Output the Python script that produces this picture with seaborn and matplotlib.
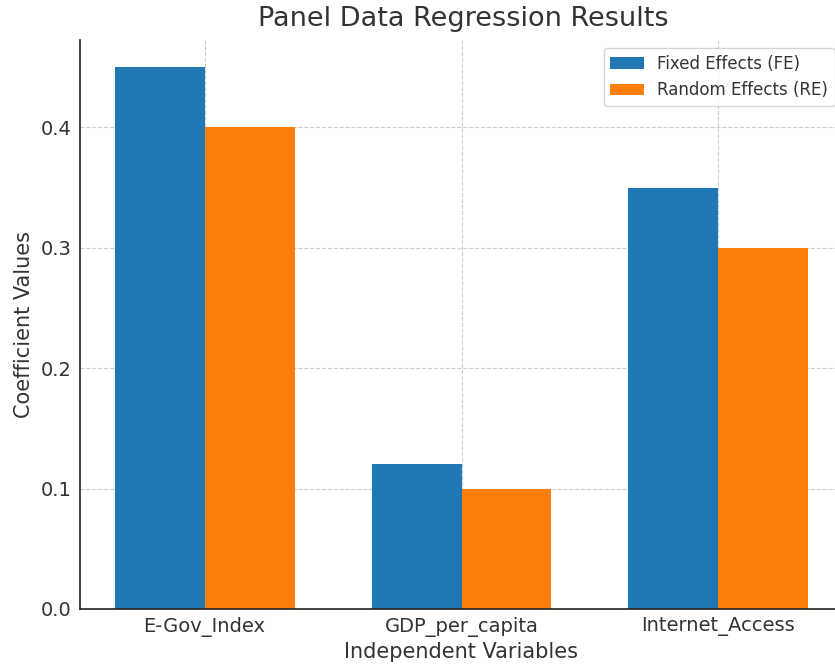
import matplotlib
matplotlib.use("Agg")
import matplotlib.pyplot as plt
import seaborn as sns
import pandas as pd

variables = ["E-Gov_Index", "GDP_per_capita", "Internet_Access"]
fe_values = [0.45, 0.12, 0.35]
re_values = [0.40, 0.10, 0.30]
series_names = ["Fixed Effects (FE)", "Random Effects (RE)"]
colors = ["#1f77b4", "#ff7f0e"]

df = pd.DataFrame({
    "Variable": variables * 2,
    "Model": [series_names[0]] * 3 + [series_names[1]] * 3,
    "Coefficient": fe_values + re_values,
})

sns.set_style("white")
plt.rcParams["font.family"] = ["DejaVu Sans"]
text_color = "#333333"

fig = plt.figure(figsize=(8.35, 6.64), dpi=100)
ax = fig.add_axes([80 / 835, 1 - 609 / 664, 763 / 835, (609 - 40) / 664])

sns.barplot(data=df, x="Variable", y="Coefficient", hue="Model",
            palette=colors, width=0.7, gap=0, saturation=1,
            edgecolor="none", linewidth=0, ax=ax, errorbar=None)

ax.set_xlim(-0.485, 2.485)
ax.set_ylim(0, 0.4725)
ax.set_yticks([0.0, 0.1, 0.2, 0.3, 0.4])
ax.set_yticklabels(["0.0", "0.1", "0.2", "0.3", "0.4"])

ax.set_axisbelow(True)
ax.grid(True, linestyle="--", color="#cccccc", linewidth=0.8)
for s in ["top", "right"]:
    ax.spines[s].set_visible(False)
for s in ["left", "bottom"]:
    ax.spines[s].set_color("#222222")
    ax.spines[s].set_linewidth(1.2)

ax.tick_params(axis="both", direction="in", length=4, width=0.8,
               color="#999999", labelcolor=text_color, labelsize=14, pad=6)
ax.set_xlabel("Independent Variables", fontsize=15, color=text_color, labelpad=3)
ax.set_ylabel("Coefficient Values", fontsize=15, color=text_color, labelpad=5)
fig.suptitle("Panel Data Regression Results", fontsize=19.5, color=text_color,
             x=463 / 835, y=1 - 6 / 664, va="top")

leg = ax.legend(loc="upper right", fontsize=12, frameon=True, title=None,
                bbox_to_anchor=((843 - 80) / 763, 1.0),
                borderaxespad=0.5)
leg.get_frame().set_edgecolor("#cccccc")
for t in leg.get_texts():
    t.set_color(text_color)

fig.savefig("out.png", dpi=100)
